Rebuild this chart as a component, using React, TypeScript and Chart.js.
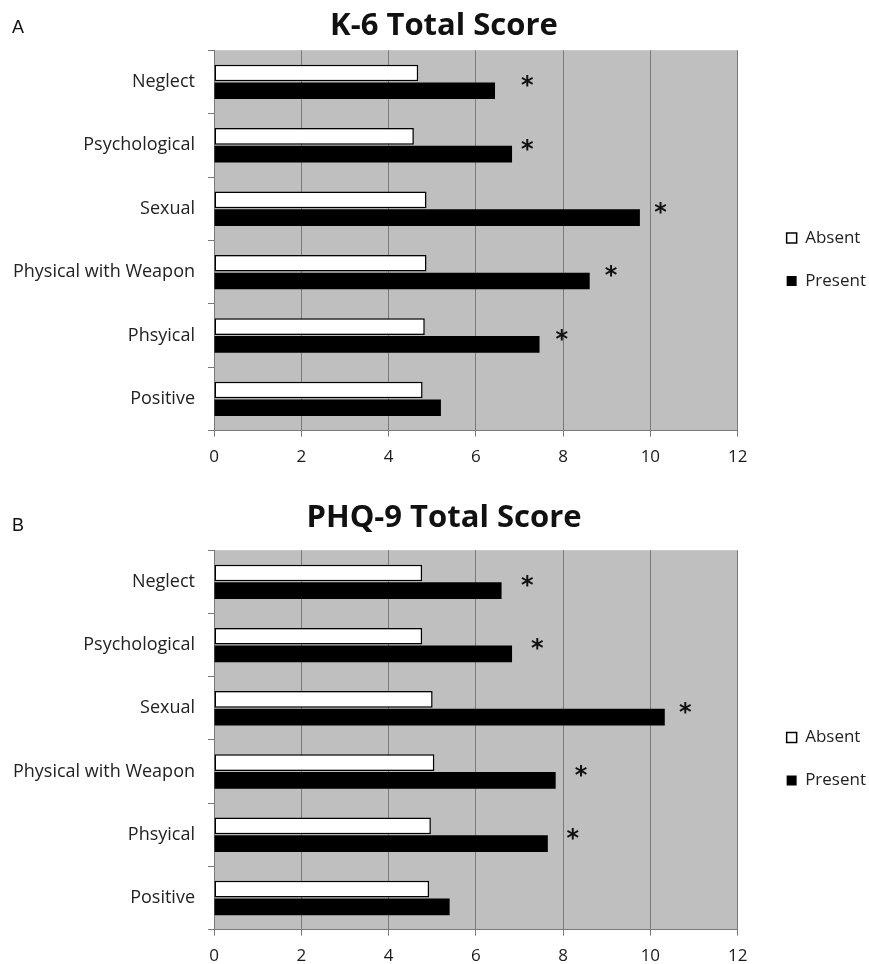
import React, { useEffect, useRef } from "react";
import { Chart, registerables } from "chart.js";

Chart.register(...registerables);

const categories = ["Neglect", "Psychological", "Sexual", "Physical with Weapon", "Phsyical", "Positive"];
const seriesNames = ["Absent", "Present"];
const xTicks = [0, 2, 4, 6, 8, 10, 12];

const k6Title = "K-6 Total Score";
const k6Absent = [4.68, 4.58, 4.87, 4.87, 4.83, 4.78];
const k6Present = [6.44, 6.83, 9.76, 8.61, 7.46, 5.2];
const k6Stars = [7.18, 7.18, 10.23, 9.1, 7.97, null];

const phqTitle = "PHQ-9 Total Score";
const phqAbsent = [4.77, 4.77, 5.01, 5.05, 4.97, 4.93];
const phqPresent = [6.59, 6.83, 10.33, 7.83, 7.65, 5.4];
const phqStars = [7.18, 7.41, 10.8, 8.41, 8.22, null];

const FONT = "'Open Sans', sans-serif";

const plotBg = {
  id: "plotBg",
  beforeDraw(chart: any) {
    const { ctx, chartArea: a } = chart;
    ctx.save();
    ctx.fillStyle = "#bfbfbf";
    ctx.fillRect(a.left, a.top, a.right - a.left, a.bottom - a.top);
    ctx.restore();
  },
};

// nudges the built-in legend and title boxes
const boxShift = {
  id: "boxShift",
  afterLayout(chart: any, _args: any, opts: any) {
    const lg = chart.legend;
    if (lg) {
      lg.left += opts.legendDx;
      lg.right += opts.legendDx;
      lg.top += opts.legendDy;
      lg.bottom += opts.legendDy;
    }
    const tb = chart.titleBlock;
    if (tb) {
      tb.left += opts.titleDx;
      tb.right += opts.titleDx;
    }
  },
};

const starPlugin = {
  id: "stars",
  afterDatasetsDraw(chart: any, _args: any, opts: any) {
    const { ctx } = chart;
    const xs = chart.scales.x;
    const ys = chart.scales.y;
    ctx.save();
    ctx.fillStyle = "#111";
    ctx.font = "bold 24px 'DejaVu Sans'";
    ctx.textAlign = "center";
    ctx.textBaseline = "middle";
    (opts.values || []).forEach((v: number | null, i: number) => {
      if (v == null) return;
      ctx.fillText("*", xs.getPixelForValue(v), ys.getPixelForValue(i) + opts.dy);
    });
    ctx.restore();
  },
};

type PanelProps = {
  title: string;
  absent: number[];
  present: number[];
  stars: (number | null)[];
  height: number;
  titlePad: { top: number; bottom: number };
  bottomPad: number;
};

function Panel({ title, absent, present, stars, height, titlePad, bottomPad }: PanelProps) {
  const ref = useRef<HTMLCanvasElement | null>(null);
  useEffect(() => {
    if (!ref.current) return;
    const chart = new Chart(ref.current, {
      type: "bar",
      data: {
        labels: categories,
        datasets: [
          {
            label: seriesNames[0],
            data: absent,
            backgroundColor: "#ffffff",
            borderColor: "#000000",
            borderWidth: 1.5,
            borderSkipped: false,
            categoryPercentage: 0.56,
            barPercentage: 0.94,
          },
          {
            label: seriesNames[1],
            data: present,
            backgroundColor: "#000000",
            borderColor: "#000000",
            borderWidth: 0,
            categoryPercentage: 0.56,
            barPercentage: 0.94,
          },
        ],
      },
      options: {
        indexAxis: "y",
        animation: false,
        responsive: false,
        maintainAspectRatio: false,
        layout: { padding: { left: 8, right: 16, top: 0, bottom: bottomPad } },
        scales: {
          x: {
            min: 0,
            max: 12,
            afterBuildTicks: (scale: any) => {
              scale.ticks = xTicks.map((v) => ({ value: v }));
            },
            grid: { color: "#7a7a7a", lineWidth: 1, drawTicks: true, tickLength: 6, tickColor: "#7a7a7a" },
            border: { color: "#7a7a7a", width: 1 },
            ticks: { font: { family: FONT, size: 17 }, color: "#1a1a1a", padding: 10 },
          },
          y: {
            afterFit: (scale: any) => {
              scale.width = 206;
            },
            grid: { offset: true, drawOnChartArea: false, drawTicks: true, tickLength: 6, tickColor: "#7a7a7a" },
            border: { color: "#7a7a7a", width: 1 },
            ticks: { font: { family: FONT, size: 18 }, color: "#222", padding: 13 },
          },
        },
        plugins: {
          title: {
            display: true,
            text: title,
            font: { family: FONT, size: 31, weight: "bold" },
            color: "#111",
            padding: titlePad,
          },
          legend: {
            display: true,
            position: "right",
            fullSize: false,
            labels: {
              boxWidth: 10,
              boxHeight: 10,
              padding: 26,
              color: "#222",
              font: { family: FONT, size: 17 },
            },
          },
          tooltip: { enabled: false },
          stars: { values: stars, dy: 5 },
          boxShift: { legendDx: 23, legendDy: 19, titleDx: 13.5 },
        } as any,
      },
      plugins: [plotBg, boxShift, starPlugin],
    } as any);
    return () => chart.destroy();
  }, []);
  return <canvas ref={ref} width={869} height={height} style={{ display: "block" }} />;
}

const letterStyle: React.CSSProperties = {
  position: "absolute",
  left: 12,
  fontFamily: "'Liberation Sans', Arial, sans-serif",
  fontSize: 18,
  color: "#111",
};

export default function App() {
  return (
    <div style={{ position: "absolute", left: 0, top: 0, width: 869, height: 964, background: "#fff", overflow: "hidden" }}>
      <div style={{ position: "absolute", left: 0, top: 0 }}>
        <Panel
          title={k6Title}
          absent={k6Absent}
          present={k6Present}
          stars={k6Stars}
          height={470}
          titlePad={{ top: 8, bottom: 5 }}
          bottomPad={-7}
        />
      </div>
      <div style={{ position: "absolute", left: 0, top: 470 }}>
        <Panel
          title={phqTitle}
          absent={phqAbsent}
          present={phqPresent}
          stars={phqStars}
          height={494}
          titlePad={{ top: 30, bottom: 13 }}
          bottomPad={-12}
        />
      </div>
      <div style={{ ...letterStyle, top: 17 }}>A</div>
      <div style={{ ...letterStyle, top: 515 }}>B</div>
    </div>
  );
}
